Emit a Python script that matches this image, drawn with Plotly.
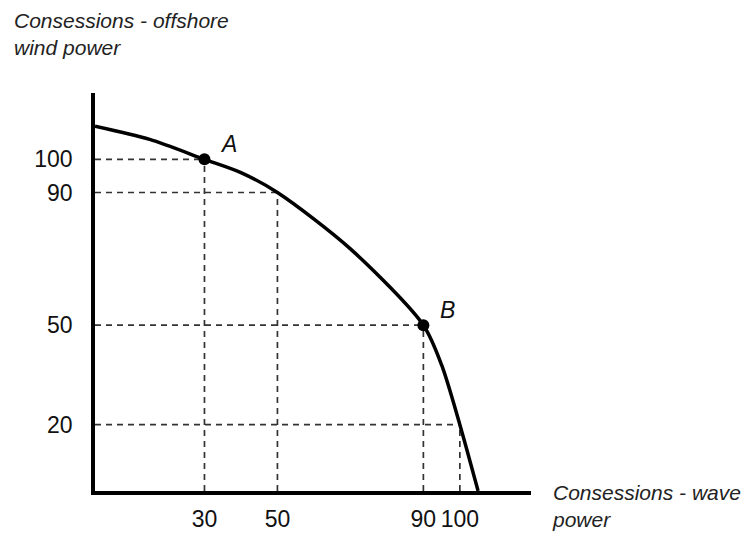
import plotly.graph_objects as go

# labelled combinations on the frontier (wave power, offshore wind power)
wave = [30, 50, 90, 100]
wind = [100, 90, 50, 20]

# frontier, including both intercepts
wave_curve = [0, 15, 30, 40, 50, 70, 90, 95, 100, 105]
wind_curve = [110, 106, 100, 96, 90, 73, 50, 38, 20, 0]

# named points
point_names = ["A", "B"]
point_wave = [30, 90]
point_wind = [100, 50]

font = "Liberation Sans, Arial, sans-serif"

# dashed guides: from each axis up to the curve
guide_x, guide_y = [], []
for w, v in zip(wave, wind):
    guide_x += [w, w, None, 0, w, None]
    guide_y += [0, v, None, v, v, None]

fig = go.Figure()

fig.add_trace(
    go.Scatter(x = guide_x,
               y = guide_y,
               mode = "lines",
               line = dict(color = "#333333", width = 1.7, dash = "6px,5px"),
               hoverinfo = "skip"))

fig.add_trace(
    go.Scatter(x = wave_curve,
               y = wind_curve,
               mode = "lines",
               line = dict(color = "black", width = 3.5, shape = "spline", smoothing = 0.8)))

fig.add_trace(
    go.Scatter(x = point_wave,
               y = point_wind,
               mode = "markers",
               marker = dict(color = "black", size = 12)))

for name, w, v in zip(point_names, point_wave, point_wind):
    fig.add_annotation(x = w, y = v, text = "<i>" + name + "</i>",
                       showarrow = False, xshift = 24, yshift = 15,
                       font = dict(family = font, size = 23, color = "#111111"))

fig.add_annotation(text = "<i>Consessions - offshore<br>wind power</i>",
                   x = -0.19, y = 1.215, xref = "paper", yref = "paper",
                   xanchor = "left", yanchor = "top", align = "left", showarrow = False,
                   font = dict(family = font, size = 21, color = "#222222"))

fig.add_annotation(text = "<i>Consessions - wave<br>power</i>",
                   x = 1.044, y = 0.031, xref = "paper", yref = "paper",
                   xanchor = "left", yanchor = "top", align = "left", showarrow = False,
                   font = dict(family = font, size = 21, color = "#222222"))

fig.update_layout(width = 749,
                  height = 536,
                  margin = dict(l = 87, r = 226, t = 85, b = 31),
                  paper_bgcolor = "white",
                  plot_bgcolor = "white",
                  showlegend = False,
                  font = dict(family = font, size = 23, color = "#111111"))

fig.update_xaxes(range = [0, 119.5], tickvals = wave, showgrid = False, zeroline = False,
                 showline = True, linecolor = "black", linewidth = 3.5,
                 ticks = "outside", ticklen = 5, tickcolor = "rgba(0,0,0,0)")
fig.update_yaxes(range = [0, 120], tickvals = wind, showgrid = False, zeroline = False,
                 showline = True, linecolor = "black", linewidth = 3.5,
                 ticks = "outside", ticklen = 14, tickcolor = "rgba(0,0,0,0)")

fig.write_html("out.html")
